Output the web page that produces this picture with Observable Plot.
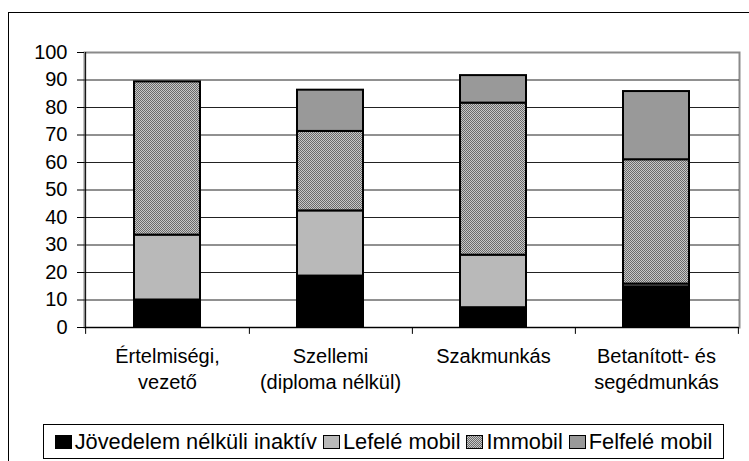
<!DOCTYPE html>
<html><head><meta charset="utf-8">
<script src="https://cdn.jsdelivr.net/npm/d3@7"></script>
<script src="https://cdn.jsdelivr.net/npm/@observablehq/plot@0.6"></script>
<style>
html,body{margin:0;padding:0;overflow:hidden;background:#fff;width:749px;height:461px;}
body{font-family:"Liberation Sans",Arial,sans-serif;color:#000;}
#frame{position:absolute;left:8px;top:12px;width:900px;height:600px;border-top:1px solid #000;border-left:1px solid #000;}
#chart{position:absolute;left:0;top:0;}
#legend{position:absolute;left:43px;top:424px;width:679px;height:33px;border:1px solid #000;display:flex;align-items:center;justify-content:center;font-size:21.8px;white-space:nowrap;background:#fff;}
.item{display:flex;align-items:center;margin:0 3px;}
.item svg{margin-right:3px;}
</style></head><body>
<svg width="0" height="0" style="position:absolute"><defs>
<pattern id="immobil" patternUnits="userSpaceOnUse" width="2" height="2">
<rect width="2" height="2" fill="#c8c8c8"/><rect width="1" height="1" fill="#6a6a6a"/><rect x="1" y="1" width="1" height="1" fill="#6a6a6a"/>
</pattern></defs></svg>
<div id="frame"></div>
<div id="chart"></div>
<div id="legend"></div>
<script>
const categories = ["Értelmiségi,\nvezető", "Szellemi\n(diploma nélkül)", "Szakmunkás", "Betanított- és\nsegédmunkás"];
const series = ["Jövedelem nélküli inaktív", "Lefelé mobil", "Immobil", "Felfelé mobil"];
const inaktiv = [10.0, 18.7, 7.2, 14.8];
const lefele = [23.6, 23.7, 19.1, 1.0];
const immobil = [55.7, 28.9, 55.3, 45.2];
const felfele = [0, 15.0, 10.0, 24.8];
const yTicks = [0, 10, 20, 30, 40, 50, 60, 70, 80, 90, 100];
const gridTicks = [10, 20, 30, 40, 50, 60, 70, 80, 90];
const fills = ["#000000", "#b9b9b9", "url(#immobil)", "#999999"];

const values = [inaktiv, lefele, immobil, felfele];
const rows = categories.flatMap((c, i) => series.map((s, j) => ({category: c, series: s, value: values[j][i]}))).filter(d => d.value > 0);

const W = 749, H = 415, mL = 84, mR = 10, mT = 52, mB = 88;
const step = (W - mL - mR) / categories.length;

const plot = Plot.plot({
  width: W, height: H,
  marginLeft: mL, marginRight: mR, marginTop: mT, marginBottom: mB,
  style: {fontFamily: "'Liberation Sans', Arial, sans-serif", color: "#000", background: "transparent", overflow: "visible"},
  x: {domain: categories, paddingInner: 0.597, paddingOuter: 0.2985, axis: null},
  y: {domain: [0, 100], axis: null},
  color: {domain: series, range: fills},
  marks: [
    Plot.frame({stroke: "#8a8a8a", strokeWidth: 2}),
    Plot.ruleY(gridTicks, {stroke: "#222", strokeWidth: 1}),
    Plot.barY(rows, {x: "category", y: "value", fill: "series", stroke: "#000", strokeWidth: 2}),
    Plot.ruleY([0], {stroke: "#000", strokeWidth: 1}),
    Plot.ruleX([categories[0]], {dx: -step / 2, y1: 0, y2: 100, stroke: "#000", strokeWidth: 1}),
    Plot.ruleX(categories, {dx: step / 2, y1: 0, y2: -2.5, stroke: "#000", strokeWidth: 1}),
    Plot.ruleX([categories[0]], {dx: -step / 2, y1: 0, y2: -2.5, stroke: "#000", strokeWidth: 1}),
    Plot.axisY(yTicks, {anchor: "left", label: null, tickSize: 7, tickPadding: 10, fontSize: 20, stroke: "#000", fill: "#000"}),
    Plot.text(categories, {x: d => d, y: 0, text: d => d, dy: 17, lineAnchor: "top", lineHeight: 1.3, fontSize: 20, fill: "#000"})
  ]
});
document.getElementById("chart").appendChild(plot);

const legend = document.getElementById("legend");
series.forEach((s, j) => {
  const item = document.createElement("div");
  item.className = "item";
  item.innerHTML = `<svg width="17" height="14"><rect x="0.5" y="0.5" width="16" height="13" fill="${fills[j]}" stroke="#000" stroke-width="1"/></svg><span>${s}</span>`;
  legend.appendChild(item);
});
</script>
</body></html>
